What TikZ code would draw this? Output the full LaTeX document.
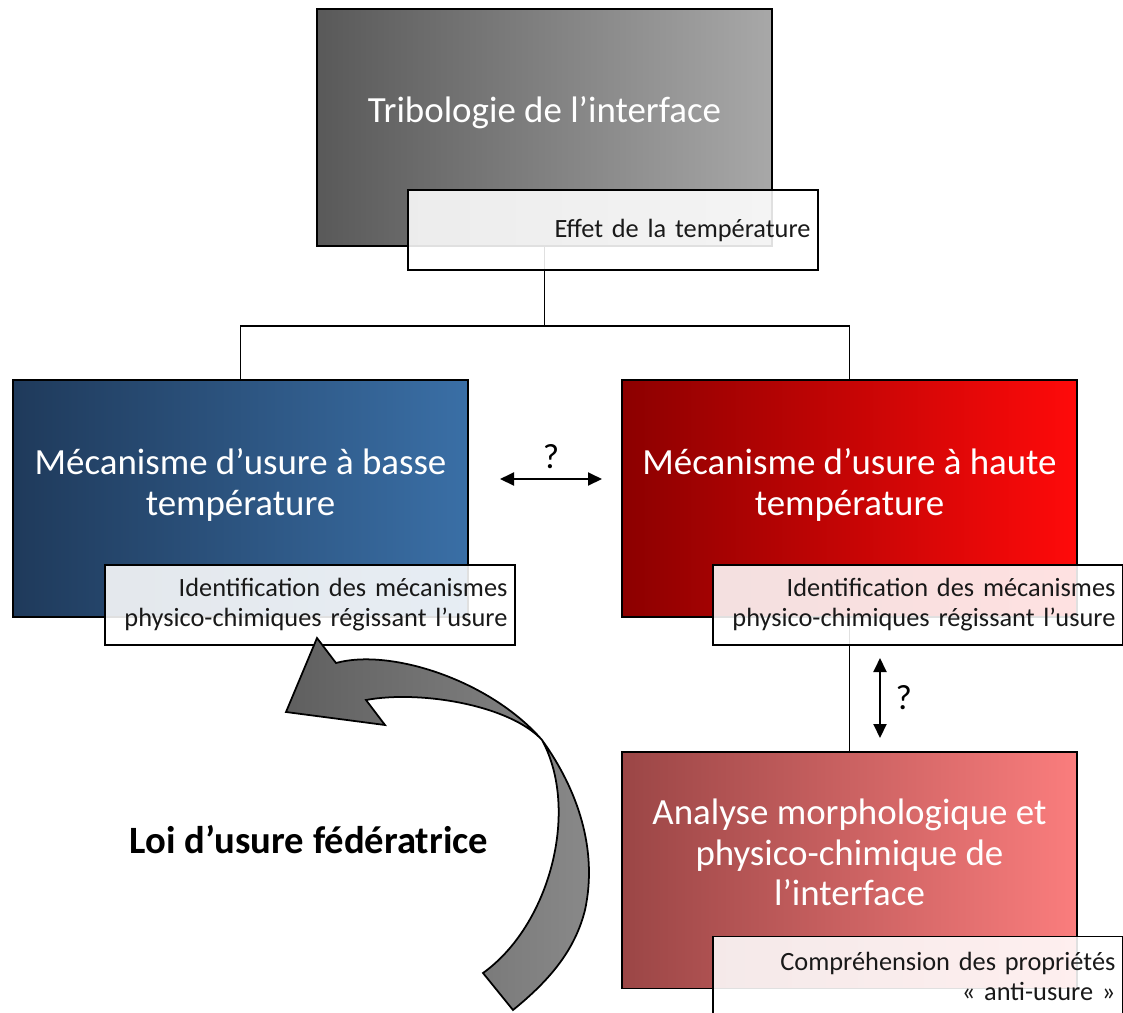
\documentclass[tikz,border=0pt]{standalone}
\usepackage{fontspec}
\setmainfont{Carlito}
\usetikzlibrary{positioning, arrows.meta}
\definecolor{grisA}{RGB}{89,89,89}
\definecolor{grisB}{RGB}{168,168,168}
\definecolor{bleuA}{RGB}{31,58,91}
\definecolor{bleuB}{RGB}{58,111,166}
\definecolor{rougeA}{RGB}{140,0,0}
\definecolor{rougeB}{RGB}{255,10,10}
\definecolor{roseA}{RGB}{155,70,70}
\definecolor{roseB}{RGB}{250,125,125}
\definecolor{flecheA}{RGB}{95,95,95}
\definecolor{flecheB}{RGB}{138,138,138}
\tikzset{
>={Triangle[length=2.8mm,width=2.6mm]}, % filled heads for the double arrows
lien/.style={line width=1.1pt}, % lines between the boxes
bloc/.style={draw=black, line width=1.1pt, minimum width=9.1cm, minimum height=4.74cm, inner sep=0pt}, % big shaded boxes
titre/.style={text=white, align=center, font=\fontsize{21}{23}\selectfont}, % text of the big boxes
legende/.style={draw=black, line width=1.1pt, fill=white, fill opacity=0.88, text opacity=1, text=black!90, text width=7.9cm, minimum height=1.6cm, inner xsep=0.15cm, align=right, anchor=south east, font=\fontsize{15}{17}\selectfont}, % white caption boxes
question/.style={font=\fontsize{20}{22}\selectfont, text=black}, % the question marks
}

\begin{document}
\begin{tikzpicture}[x=0.02cm, y=-0.02cm]
      \useasboundingbox (0,0) rectangle (1123,1012);

      % the four boxes
      \node[bloc, left color=grisA, right color=grisB] (tribo) at (544.5,127.5) {};
      \node[bloc, left color=bleuA, right color=bleuB] (basse) at (240.5,498.5) {};
      \node[bloc, left color=rougeA, right color=rougeB] (haute) at (849.5,498.5) {};
      \node[bloc, left color=roseA, right color=roseB] (analyse) at (849.5,870) {};

      \node[titre] (tribo-t) at ([yshift=0.3cm]tribo.center) {Tribologie de l’interface};
      \node[titre] (basse-t) at ([yshift=0.27cm]basse.center) {Mécanisme d’usure à basse\\température};
      \node[titre] (haute-t) at ([yshift=0.27cm]haute.center) {Mécanisme d’usure à haute\\température};
      \node[titre] (analyse-t) at ([yshift=0.35cm]analyse.center) {Analyse morphologique et\\physico-chimique de\\l’interface};

      % tree
      \draw[lien] (tribo.south) -- ++(0,79) coordinate (fourche) -| (basse.north);
      \draw[lien] (fourche) -| (haute.north);
      \draw[lien] (haute.south) -- (analyse.north);

      % captions
      \node[legende] (tribo-l) at ([shift={(0.92cm,-0.48cm)}]tribo.south east) {Effet de la température};
      \node[legende] (basse-l) at ([shift={(0.94cm,-0.56cm)}]basse.south east) {Identification des mécanismes\\physico-chimiques régissant l’usure};
      \node[legende] (haute-l) at ([shift={(0.92cm,-0.56cm)}]haute.south east) {Identification des mécanismes\\physico-chimiques régissant l’usure};
      \node[legende] (analyse-l) at ([shift={(0.92cm,-0.56cm)}]analyse.south east) {Compréhension des propriétés\\«~anti-usure~»};

      % double arrows
      \coordinate (g1) at (500,479);
      \coordinate (g2) at (602,479);
      \coordinate (v1) at (880,658);
      \coordinate (v2) at (880,738);
      \draw[lien, <->] (g1) -- node[question, above=2pt] (q1) {?} (g2);
      \draw[lien, <->] (v1) -- node[question, right=5pt] (q2) {?} (v2);

      % big curved arrow
      \draw[line width=1pt, left color=flecheA, right color=flecheB] (317,638) -- (336,663)
        .. controls (390,648) and (490,680) .. (542,740)
        .. controls (578,790) and (598,850) .. (585,910)
        .. controls (575,950) and (550,980) .. (513,1010) -- (483,973)
        .. controls (550,925) and (580,810) .. (542,740)
        .. controls (510,705) and (420,690) .. (366,700) -- (385,725) -- (286,712) -- cycle;

      \node[font=\bfseries\fontsize{22}{24}\selectfont] (loi) at (309,840) {Loi d’usure fédératrice};
    \end{tikzpicture}
\end{document}
